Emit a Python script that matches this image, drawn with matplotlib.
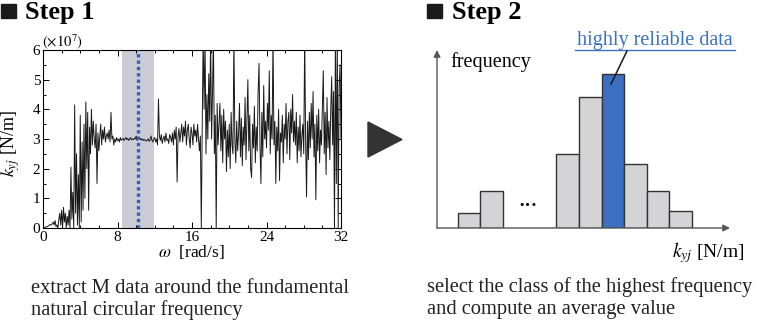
import numpy as np
import matplotlib
matplotlib.use("Agg")
import matplotlib.pyplot as plt
from matplotlib.patches import Rectangle, Polygon

plt.rcParams['font.family'] = ['Liberation Serif', 'DejaVu Sans']
plt.rcParams['mathtext.fontset'] = 'stix'

# ---- step 1 : stiffness k_yj vs omega (x1e7 N/m), sampled every 0.1 rad/s
omega_step = 0.1
k_yj = [
    0.0, 0.0, 0.02, 0.03, 0.05, 0.05, 0.08, 0.1, 0.12, 0.1,
    0.15, 0.2, 0.1, 0.25, 0.05, 0.1, 0.0, 0.3, 0.5, 0.1,
    0.6, 0.0, 0.7, 0.2, 0.5, 0.0, 0.4, 0.1, 0.6, 0.0,
    2.05, 0.3, 1.2, 0.0, 4.15, 0.5, 2.5, 0.1, 1.8, 0.0,
    3.8, 0.2, 2.9, 0.6, 3.5, 1.0, 4.25, 2.0, 3.9, 0.6,
    3.4, 2.5, 4.0, 2.8, 3.6, 3.0, 2.7, 3.5, 1.5, 3.2,
    2.6, 3.1, 3.5, 2.8, 3.3, 3.0, 3.4, 2.9, 3.1, 3.2,
    3.0, 3.3, 2.9, 3.9, 3.0, 3.1, 2.8, 3.0, 2.9, 3.05,
    2.95, 3.0, 2.9, 3.05, 2.95, 3.0, 3.02, 2.95, 3.0, 3.05,
    2.98, 3.02, 2.95, 3.0, 3.05, 2.97, 3.0, 2.98, 3.03, 3.0,
    3.1, 2.95, 3.0, 3.0, 2.98, 3.02, 2.96, 3.0, 2.95, 2.98,
    2.95, 2.93, 2.97, 3.0, 2.92, 2.98, 3.1, 2.95, 2.9, 3.0,
    3.05, 2.9, 3.0, 2.8, 4.35, 3.1, 2.95, 3.15, 2.85, 3.0,
    3.1, 2.9, 3.2, 2.95, 3.0, 2.85, 3.15, 3.05, 2.9, 3.2,
    2.8, 3.3, 3.0, 3.4, 1.55, 3.1, 3.35, 2.9, 3.2, 3.5,
    2.9, 3.4, 3.1, 3.6, 2.8, 3.3, 3.5, 3.0, 2.7, 3.4,
    3.2, 2.8, 3.5, 3.1, 3.3, 2.9, 3.5, 3.0, 2.6, 3.1,
    0.0, 3.5, 6.5, 4.0, 6.5, 2.5, 4.5, 3.0, 5.2, 3.6,
    6.5, 3.0, 4.5, 6.5, 2.5, 3.8, 0.0, 4.2, 2.8, 3.5,
    4.2, 2.6, 3.8, 2.2, 4.0, 3.0, 3.6, 1.9, 3.3, 2.4,
    3.5, 2.0, 3.9, 2.8, 2.5, 6.5, 3.0, 2.2, 3.6, 2.6,
    3.2, 4.2, 2.4, 3.7, 2.1, 3.4, 2.8, 4.4, 2.3, 3.6,
    5.0, 2.6, 3.8, 2.0, 1.7, 3.5, 2.7, 4.1, 2.2, 3.4,
    2.6, 4.6, 5.55, 2.8, 1.5, 3.9, 2.4, 4.8, 3.0, 3.6,
    2.7, 4.2, 3.3, 5.3, 2.5, 3.8, 3.0, 6.5, 2.8, 3.6,
    1.5, 3.4, 2.6, 4.0, 1.6, 3.2, 2.9, 3.8, 2.2, 3.5,
    3.0, 4.2, 2.5, 3.6, 3.9, 2.3, 4.0, 3.2, 4.5, 2.9,
    3.6, 2.8, 3.9, 2.2, 3.4, 2.6, 3.8, 2.4, 3.1, 3.5,
    2.5, 6.5, 3.0, 1.05, 3.6, 2.3, 3.9, 2.7, 4.2, 3.0,
    4.6, 2.4, 3.5, 0.95, 3.8, 2.6, 4.0, 2.2, 3.3, 2.8,
    4.1, 5.3, 2.5, 3.9, 1.8, 4.4, 2.7, 3.6, 2.3, 4.0,
    5.1, 2.8, 4.6, 0.0, 6.5, 1.5, 6.5, 0.0, 4.8, 5.5,
    3.0,
]
band = (8.5, 11.9)
omega_fund = 10.2

# ---- step 2 : schematic histogram
class_left = [0, 1, 4.37, 5.37, 6.37, 7.37, 8.37, 9.37]
class_count = [1.5, 3.7, 7.4, 13.1, 15.4, 6.4, 3.7, 1.7]
best_class = 4

W, H = 758, 324
fig = plt.figure(figsize=(W / 100, H / 100), dpi=100)


def box(x0, y0, x1, y1):
    return [x0 / W, 1 - y1 / H, (x1 - x0) / W, (y1 - y0) / H]


def fx(x):
    return x / W


def fy(y):
    return 1 - y / H


# ---------------- step 1 panel
ax = fig.add_axes(box(43, 50, 341, 228))
omega = np.arange(len(k_yj)) * omega_step
ax.axvspan(band[0], band[1], color='#c9ccd4', lw=0, zorder=0)
ax.plot(omega, k_yj, color='#1a1a1a', lw=0.7, zorder=2)
ax.axvline(omega_fund, color='#3560c0', lw=2.4, ls=(0, (1, 0.9)), zorder=3)
ax.set_xlim(0, 32)
ax.set_ylim(0, 6)
ax.set_xticks([0, 8, 16, 24, 32])
ax.set_xticks(np.arange(0, 33, 2), minor=True)
ax.set_yticks(range(7))
ax.set_yticks(np.arange(0, 6.01, 0.5), minor=True)
ax.tick_params(which='both', direction='in', top=True, right=True,
               labelsize=11, pad=2, width=0.7)
ax.tick_params(which='major', length=4)
ax.tick_params(which='minor', length=2.5)
for s in ax.spines.values():
    s.set_linewidth(0.8)
fig.text(fx(42), fy(42), r'$(\times10^7)$', fontsize=10.5, ha='left', va='center')
fig.text(fx(191), fy(252), r'$\omega$  [rad/s]', fontsize=12.5, ha='center', va='center')
fig.text(fx(11), fy(143), r'$k_{yj}$ [N/m]', fontsize=13, ha='center', va='center',
         rotation=90)

# titles
fig.patches.append(Rectangle((fx(1), fy(18)), 15 / W, 14 / H, transform=fig.transFigure,
                             color='#1a1a1a'))
fig.text(fx(25), fy(18.5), 'Step 1', fontsize=19, fontweight='bold', ha='left',
         va='baseline')
fig.patches.append(Rectangle((fx(427), fy(18)), 15 / W, 14 / H, transform=fig.transFigure,
                             color='#1a1a1a'))
fig.text(fx(452), fy(18.5), 'Step 2', fontsize=19, fontweight='bold', ha='left',
         va='baseline')

fig.text(fx(31), fy(293), 'extract M data around the fundamental', fontsize=14.8,
         ha='left', va='baseline', color='#222222')
fig.text(fx(31), fy(315), 'natural circular frequency', fontsize=14.8,
         ha='left', va='baseline', color='#222222')
fig.text(fx(427), fy(292), 'select the class of the highest frequency', fontsize=14.8,
         ha='left', va='baseline', color='#222222')
fig.text(fx(427), fy(314), 'and compute an average value', fontsize=14.8,
         ha='left', va='baseline', color='#222222')

# arrow between panels
fig.patches.append(Polygon([(fx(368), fy(122)), (fx(368), fy(157)), (fx(402), fy(139.5))],
                           closed=True, transform=fig.transFigure, color='#333333'))

# ---------------- step 2 panel
ax2 = fig.add_axes(box(437, 50, 730, 228))
ax2.set_xlim(-0.916, 12.05)
ax2.set_ylim(0, 17.8)
ax2.axis('off')
colors = ['#d4d4d6'] * len(class_count)
colors[best_class] = '#3a6fc2'
ax2.bar([c + 0.5 for c in class_left], class_count, width=1, color=colors,
        edgecolor='#333333', linewidth=1.0, zorder=2)
ax2.annotate('', xy=(0, 1), xytext=(0, 0), xycoords='axes fraction',
             arrowprops=dict(arrowstyle='-|>', color='#555555', lw=1.0,
                             mutation_scale=10, shrinkA=0, shrinkB=0))
ax2.annotate('', xy=(1, 0), xytext=(0, 0), xycoords='axes fraction',
             arrowprops=dict(arrowstyle='-|>', color='#555555', lw=1.0,
                             mutation_scale=10, shrinkA=0, shrinkB=0))
fig.text(fx(528), fy(207), '···', fontsize=14, ha='center', va='center',
         fontweight='bold')
fig.text(fx(450), fy(62), 'frequency', fontsize=14.5, ha='left', va='center')
fig.text(fx(708), fy(253), r'$k_{yj}$ [N/m]', fontsize=14, ha='center', va='center')
fig.text(fx(655), fy(41), 'highly reliable data', fontsize=14.5, ha='center',
         va='center', color='#3b73c4')
fig.lines.append(plt.Line2D([fx(575), fx(735)], [fy(50), fy(50)],
                            transform=fig.transFigure, color='#3b73c4', lw=1))
fig.lines.append(plt.Line2D([fx(627), fx(611)], [fy(51), fy(84)],
                            transform=fig.transFigure, color='#1a1a1a', lw=1.1))

fig.savefig('out.png', dpi=100)
